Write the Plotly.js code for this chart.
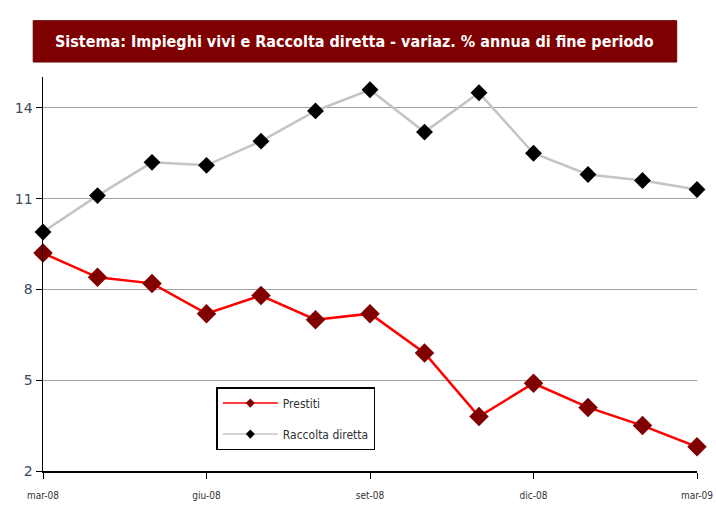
<!DOCTYPE html>
<html><head><meta charset="utf-8">
<script src="https://cdn.plot.ly/plotly-3.0.1.min.js"></script>
<style>body{margin:0;background:#fff}#c{width:716px;height:506px}</style>
</head><body><div id="c"></div>
<script>
const months = ["mar-08","apr-08","mag-08","giu-08","lug-08","ago-08","set-08","ott-08","nov-08","dic-08","gen-09","feb-09","mar-09"];
const prestiti = [9.2,8.4,8.2,7.2,7.8,7.0,7.2,5.9,3.8,4.9,4.1,3.5,2.8];
const raccolta = [9.9,11.1,12.2,12.1,12.9,13.9,14.6,13.2,14.5,12.5,11.8,11.6,11.3];
const tickMonths = ["mar-08","giu-08","set-08","dic-08","mar-09"];
const yTicks = [2,5,8,11,14];
const seriesNames = ["Prestiti","Raccolta diretta"];
const titleText = "Sistema: Impieghi vivi e Raccolta diretta - variaz. % annua di fine periodo";

const styles = [
  {line: {color: "#ff0000", width: 2.5}, marker: {symbol: "diamond", size: 15, color: "#800000"}, legMarker: {symbol: "diamond", size: 7, color: "#800000"}},
  {line: {color: "#c4c4c4", width: 2.5}, marker: {symbol: "diamond", size: 13, color: "#000000"}, legMarker: {symbol: "diamond", size: 7, color: "#000000"}}
];
const values = [prestiti, raccolta];
const traces = [];
values.forEach((v, i) => {
  traces.push({x: months, y: v, name: seriesNames[i], type: "scatter", mode: "lines+markers",
    line: styles[i].line, marker: styles[i].marker, cliponaxis: false, showlegend: false});
});
values.forEach((v, i) => {
  traces.push({x: [null], y: [null], name: seriesNames[i], type: "scatter", mode: "lines+markers",
    line: {color: styles[i].line.color, width: 1.5}, marker: styles[i].legMarker,
    legendgroup: "g" + i, showlegend: true});
});

const layout = {
  width: 716, height: 506,
  margin: {l: 43, r: 19, t: 77, b: 35},
  paper_bgcolor: "#fff", plot_bgcolor: "#fff",
  showlegend: true,
  legend: {x: 0.265, y: 0.213, xanchor: "left", yanchor: "top",
    bordercolor: "#000", borderwidth: 1.5, bgcolor: "#fff",
    font: {family: "DejaVu Sans Condensed, DejaVu Sans", size: 12, color: "#333"},
    traceorder: "grouped", tracegroupgap: 12, itemwidth: 55},
  xaxis: {type: "category", range: [0, 12], tickmode: "array", tickvals: tickMonths, ticktext: tickMonths,
    showgrid: false, showline: true, linecolor: "#000", linewidth: 1.5,
    ticks: "outside", ticklen: 6, tickcolor: "#000", ticklabelstandoff: 8,
    tickfont: {family: "DejaVu Sans Condensed, DejaVu Sans", size: 10, color: "#333"}, zeroline: false},
  yaxis: {range: [2, 15.02], tickmode: "array", tickvals: yTicks,
    showgrid: true, gridcolor: "#a0a0a0", gridwidth: 1,
    showline: true, linecolor: "#000", linewidth: 1.5,
    ticks: "outside", ticklen: 6, tickcolor: "#000",
    tickfont: {family: "DejaVu Sans", size: 14, color: "#3d4a5c"}, zeroline: false},
  shapes: [{type: "rect", xref: "paper", yref: "paper",
    x0: -0.015, x1: 0.969, y0: 1.038, y1: 1.143,
    fillcolor: "#7f0000", line: {color: "#6a0000", width: 1}, layer: "above"}],
  annotations: [{text: "<b>" + titleText + "</b>", xref: "paper", yref: "paper",
    x: 0.477, y: 1.09, showarrow: false, xanchor: "center", yanchor: "middle",
    font: {family: "Liberation Sans Narrow, DejaVu Sans Condensed", size: 16, color: "#fff"}}]
};
Plotly.newPlot("c", traces, layout, {displayModeBar: false, staticPlot: true});
</script></body></html>
